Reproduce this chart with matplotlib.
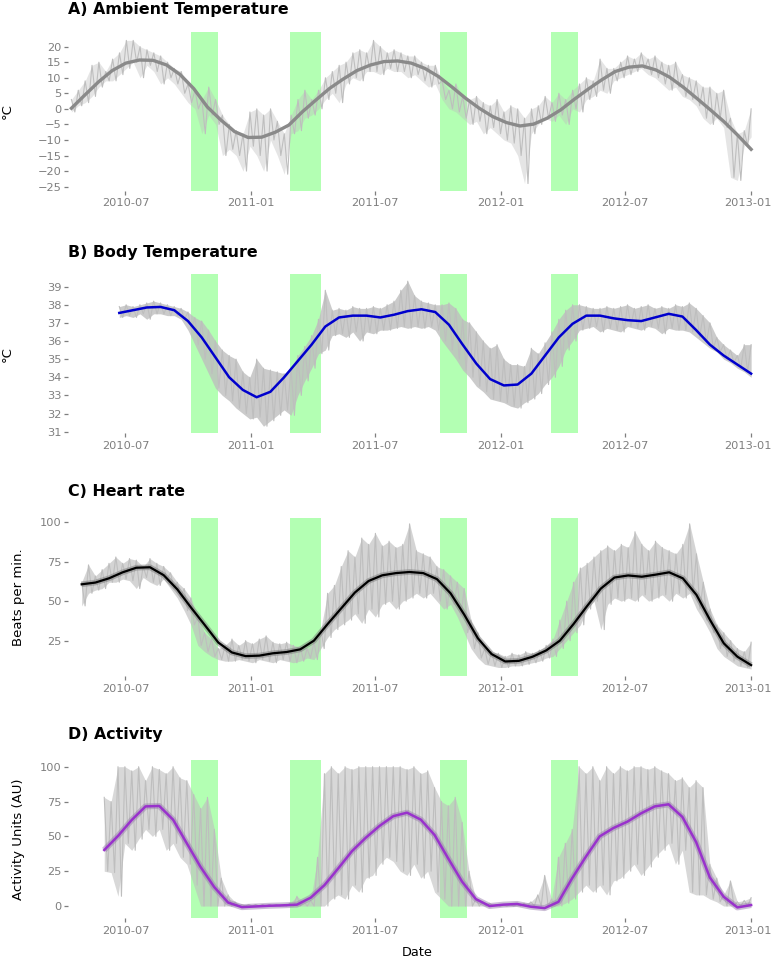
import numpy as np
import pandas as pd
import matplotlib
matplotlib.use('Agg')
import matplotlib.pyplot as plt
import matplotlib.dates as mdates
import matplotlib.transforms as mtransforms

END = '2013-01-01'

# hibernation periods (green bands)
band_starts = ['2010-10-05', '2011-02-27', '2011-10-04', '2012-03-14']
band_ends = ['2010-11-14', '2011-04-13', '2011-11-12', '2012-04-23']

# A) ambient temperature, ~10 day steps: high / low of raw trace
amb_start = '2010-04-13'
amb_hi = [3, 6, 9, 14, 15, 12, 16, 18, 22, 22, 20, 19, 18, 17, 15, 13, 12, 8, 6, 3,
          7, 3, -2, -5, -7, -8, -1, 0, -2, 0, -4, -8, -2, 3, 6, 3, 6, 10, 12, 14,
          15, 18, 19, 18, 22, 20, 18, 19, 18, 17, 17, 15, 14, 14, 9, 6, 8, 4, 3, 4,
          2, 1, 3, -1, 1, 0, -3, 0, 1, 4, 2, 5, 3, 6, 8, 10, 9, 16, 13, 13,
          15, 17, 16, 18, 16, 17, 15, 14, 15, 11, 10, 9, 7, 7, 5, 6, -3, -8, -7, 0]
amb_lo = [-1, 1, 2, 4, 7, 9, 9, 11, 13, 15, 10, 14, 12, 8, 10, 8, 5, 2, 0, -8,
          -2, -5, -15, -13, -15, -20, -12, -15, -20, -10, -15, -21, -8, -7, -3, -2, 0, 3, 5, 2,
          8, 10, 9, 12, 12, 11, 13, 12, 12, 10, 11, 9, 7, 8, 3, 0, -1, -3, -5, -4,
          -8, -6, -8, -10, -11, -15, -24, -8, -5, -3, -4, -2, -5, 0, -1, 3, 4, 6, 5, 9,
          10, 11, 12, 13, 11, 10, 8, 6, 7, 4, 3, 1, -3, -5, -3, -6, -22, -23, -12, -9]
amb_smooth = [0.2, 4.5, 8.7, 12.3, 14.7, 15.7, 15.6, 14.1, 11, 6.5,
              0.6, -3.6, -7.3, -9.2, -9.1, -7.5, -5.2, -0.9, 2.9, 6.6,
              9.6, 12.3, 14.1, 15.2, 15.4, 14.7, 13, 10.4, 7, 3.4,
              0.2, -2.5, -4.4, -5.5, -4.9, -3, -0.3, 3.1, 6.3, 9.3,
              12, 13.4, 13.8, 12.5, 10.2, 7, 3.4, -0.3, -4.1, -8.4, -13]

# B) body temperature
body_start = '2010-06-22'
body_hi = [37.9, 38.0, 37.9, 38.0, 38.1, 38.2, 38.1, 38.0, 37.9, 37.8,
           37.6, 37.3, 37.1, 36.6, 36.0, 35.5, 35.2, 35.0, 34.3, 34.0,
           35.0, 34.5, 34.4, 34.3, 34.2, 34.5, 35.2, 35.7, 36.3, 37.2,
           38.8, 37.7, 37.8, 37.7, 37.9, 37.8, 37.8, 37.9, 37.8, 38.0,
           38.2, 38.8, 39.3, 38.5, 38.2, 38.1, 38.0, 38.0, 38.1, 37.8,
           37.2, 37.0, 36.5, 36.0, 35.6, 35.8, 35.0, 34.7, 34.7, 34.6,
           35.6, 35.3, 35.9, 36.5, 37.2, 37.7, 38.0, 38.0, 37.9, 37.8,
           37.8, 37.9, 37.8, 37.9, 38.0, 37.8, 37.9, 38.0, 37.8, 37.9,
           37.8, 38.0, 37.9, 38.1, 37.8, 37.4, 37.0, 36.2, 35.8, 35.5,
           35.2, 35.8, 35.8]
body_lo = [37.3, 37.4, 37.3, 37.5, 37.2, 37.5, 37.5, 37.4, 37.4, 37.2,
           36.6, 35.8, 35.0, 34.2, 33.4, 33.0, 32.7, 32.3, 32.0, 31.7,
           31.8, 31.3, 31.6, 31.9, 32.2, 31.9, 33.0, 33.8, 34.5, 35.3,
           35.5, 36.3, 36.4, 36.2, 36.5, 36.0, 36.5, 36.4, 36.6, 36.6,
           36.7, 36.8, 36.7, 36.8, 36.7, 36.8, 36.6, 36.0, 35.5, 35.0,
           34.4, 34.0, 33.5, 33.2, 32.8, 32.7, 32.6, 32.4, 32.3, 32.6,
           32.8, 33.1, 33.6, 34.0, 34.6, 35.5, 36.0, 36.6, 36.7, 36.8,
           36.5, 36.7, 36.6, 36.5, 36.8, 36.7, 36.6, 36.8, 36.7, 36.4,
           36.7, 36.6, 36.6, 36.5, 36.2, 35.9, 35.6, 35.4, 35.0, 34.8,
           34.5, 34.3, 34.0]
body_smooth = [37.55, 37.7, 37.85, 37.88, 37.7, 37.1, 36.2, 35.1, 34.0, 33.3,
               32.9, 33.2, 34.0, 34.9, 35.8, 36.8, 37.3, 37.4, 37.4, 37.3,
               37.45, 37.65, 37.75, 37.6, 36.9, 35.8, 34.75, 33.9, 33.55, 33.6,
               34.2, 35.2, 36.2, 36.95, 37.4, 37.4, 37.25, 37.15, 37.1, 37.3,
               37.5, 37.35, 36.6, 35.8, 35.2, 34.7, 34.2]

# C) heart rate
hr_start = '2010-04-28'
hr_hi = [62, 73, 66, 70, 74, 78, 74, 77, 76, 72, 77, 74, 72, 68, 62, 58, 52, 40, 30, 26,
         20, 22, 26, 22, 25, 23, 26, 28, 24, 23, 24, 22, 21, 20, 24, 32, 55, 60, 72, 82,
         78, 90, 86, 93, 85, 88, 84, 86, 99, 82, 80, 78, 72, 70, 66, 62, 58, 38, 30, 20,
         18, 17, 15, 17, 16, 18, 17, 19, 22, 26, 38, 50, 62, 71, 74, 78, 82, 85, 82, 86,
         84, 94, 86, 82, 88, 84, 82, 80, 86, 99, 80, 62, 45, 35, 30, 25, 20, 18, 24]
hr_lo = [47, 55, 57, 58, 62, 62, 64, 63, 58, 65, 62, 60, 64, 58, 52, 44, 35, 22, 18, 15,
         13, 12, 12, 13, 12, 11, 13, 12, 11, 13, 12, 11, 12, 14, 13, 20, 27, 32, 35, 38,
         42, 36, 45, 40, 48, 50, 45, 50, 52, 55, 52, 55, 50, 45, 48, 40, 30, 20, 14, 10,
         9, 8, 8, 9, 9, 10, 11, 12, 14, 15, 20, 25, 30, 35, 45, 50, 32, 48, 52, 50,
         52, 50, 54, 50, 52, 54, 50, 55, 52, 55, 45, 38, 30, 20, 15, 12, 9, 8, 7]
hr_smooth = [60.7, 61.8, 64.5, 68.3, 71.2, 71.5, 66.5, 57.5, 46, 35,
             23.8, 17.5, 15.2, 15.5, 17, 17.8, 19.5, 25, 35.5, 45.5,
             55.5, 62.8, 66.4, 67.8, 68.5, 67.8, 64, 55, 41.5, 26.5,
             16.5, 11.8, 12.2, 14.8, 18.8, 25, 35.5, 47, 58, 65,
             66.3, 65.5, 66.8, 68.3, 64.5, 54, 38, 23.3, 14.8, 9.5]

# D) activity
act_start = '2010-05-31'
act_hi = [78, 75, 100, 100, 97, 100, 90, 100, 98, 95, 100, 92, 90, 80, 70, 78, 55, 20, 8, 3,
          1, 1, 1, 1, 1, 1, 1, 2, 7, 3, 4, 35, 95, 100, 95, 100, 98, 100, 100, 100,
          100, 100, 100, 100, 98, 100, 95, 97, 85, 75, 72, 78, 60, 25, 5, 3, 2, 1, 1, 1,
          1, 2, 3, 8, 22, 5, 35, 45, 55, 100, 95, 100, 90, 100, 95, 100, 97, 100, 100, 98,
          100, 97, 95, 90, 92, 85, 90, 85, 30, 20, 8, 18, 3, 4, 6]
act_lo = [25, 24, 7, 45, 40, 48, 55, 50, 55, 40, 45, 35, 30, 15, 0, 0, 0, 0, 0, 0,
          0, 0, 0, 0, 0, 0, 0, 0, 0, 0, 0, 0, 0, 5, 8, 5, 15, 10, 20, 22,
          30, 35, 32, 25, 22, 30, 20, 25, 10, 5, 0, 0, 0, 0, 0, 0, 0, 0, 0, 0,
          0, 0, 0, 0, 0, 0, 0, 2, 5, 10, 15, 10, 15, 8, 18, 20, 25, 30, 22, 28,
          35, 40, 45, 30, 40, 10, 8, 8, 5, 3, 0, 0, 0, 0, 0]
act_smooth = [40.2, 50.3, 61.8, 71.5, 71.8, 62, 45, 28, 13.5, 2.5,
              -0.8, -0.3, 0.2, 0.5, 1.0, 6, 15, 27, 39.4, 49,
              57.5, 64.5, 67, 62, 51, 34, 17.5, 5, 0, 1,
              1.5, -0.5, -1.5, 3, 20, 35.5, 50, 56, 60.5, 66.5,
              71.5, 73, 64, 46, 20.5, 6.7, -1, 0.7]

panels = [
    dict(title='A) Ambient Temperature', start=amb_start, hi=amb_hi, lo=amb_lo,
         smooth=amb_smooth, color='#8a8a8a', lw=2.4, under=None, fill=0.4,
         ylabel='°C', yticks=list(range(-25, 21, 5)), ylim=(-26.3, 24.8),
         top=31.7, bottom=190.7, pad=12.7, labx=-0.0865),
    dict(title='B) Body Temperature', start=body_start, hi=body_hi, lo=body_lo,
         smooth=body_smooth, color='#0000cd', lw=1.8, under=None, fill=0.8,
         ylabel='°C', yticks=list(range(31, 40)), ylim=(30.91, 39.68),
         top=274.3, bottom=433.3, pad=12.7, labx=-0.0865),
    dict(title='C) Heart rate', start=hr_start, hi=hr_hi, lo=hr_lo,
         smooth=hr_smooth, color='black', lw=1.6, under='#7a7a7a', fill=0.65,
         ylabel='Beats per min.', yticks=[25, 50, 75, 100], ylim=(2.6, 102.9),
         top=517.7, bottom=676, pad=15.8, labx=-0.0705),
    dict(title='D) Activity', start=act_start, hi=act_hi, lo=act_lo,
         smooth=act_smooth, color='#9932cc', lw=1.8, under='#9a7fae', fill=0.6,
         ylabel='Activity Units (AU)', yticks=[0, 25, 50, 75, 100], ylim=(-8.8, 104.8),
         top=760, bottom=918.3, pad=15.1, labx=-0.0705),
]

W, H = 773, 958
fig = plt.figure(figsize=(W / 100, H / 100), dpi=100)

xticks = pd.to_datetime(['2010-07-01', '2011-01-01', '2011-07-01',
                         '2012-01-01', '2012-07-01', '2013-01-01'])
tick_grey = '#7f7f7f'
raw_grey = '#bebebe'
nudge = mtransforms.ScaledTranslation(-3 / 100, 0, fig.dpi_scale_trans)

for p in panels:
    ax = fig.add_axes([68 / W, 1 - p['bottom'] / H, 705 / W, (p['bottom'] - p['top']) / H])

    for s, e in zip(band_starts, band_ends):
        ax.axvspan(pd.Timestamp(s), pd.Timestamp(e), color='#b3ffb3', lw=0, zorder=0)

    # raw trace: envelope plus a line alternating between high and low readings
    n = len(p['hi'])
    days = pd.date_range(p['start'], END, periods=n)
    ax.fill_between(days, p['lo'], p['hi'], color=raw_grey, alpha=p['fill'], lw=0, zorder=1)
    half = (days[1] - days[0]) / 2
    xs, ys = [], []
    for k in range(n):
        xs.append(days[k])
        ys.append(p['hi'][k])
        if k < n - 1:
            xs.append(days[k] + half)
            ys.append(p['lo'][k])
    ax.plot(xs, ys, color=raw_grey, lw=0.8, zorder=1)

    sdays = pd.date_range(p['start'], END, periods=len(p['smooth']))
    if p['under']:
        ax.plot(sdays, p['smooth'], color=p['under'], lw=p['lw'] + 2.5, alpha=0.5,
                solid_capstyle='butt', solid_joinstyle='round', zorder=2)
    ax.plot(sdays, p['smooth'], color=p['color'], lw=p['lw'],
            solid_joinstyle='round', zorder=3)

    ax.set_xlim(pd.Timestamp('2010-04-08'), pd.Timestamp('2013-02-02'))
    ax.set_ylim(*p['ylim'])
    ax.set_yticks(p['yticks'])
    ax.set_xticks(xticks)
    ax.xaxis.set_major_formatter(mdates.DateFormatter('%Y-%m'))
    for sp in ax.spines.values():
        sp.set_visible(False)
    ax.tick_params(axis='both', length=3, width=0.9, color=tick_grey,
                   labelcolor=tick_grey, labelsize=8.2)
    ax.tick_params(axis='y', pad=1.5)
    ax.tick_params(axis='x', pad=2.5)
    last = ax.get_xticklabels()[-1]
    last.set_transform(last.get_transform() + nudge)
    ax.set_title(p['title'], loc='left', fontweight='bold', fontsize=11.4, pad=p['pad'])
    ax.set_ylabel(p['ylabel'], fontsize=9.5, va='center')
    ax.yaxis.set_label_coords(p['labx'], 0.5)

ax.set_xlabel('Date', fontsize=9.3)
ax.xaxis.set_label_coords(0.4946, -0.172)

fig.savefig('out.png', dpi=100)
